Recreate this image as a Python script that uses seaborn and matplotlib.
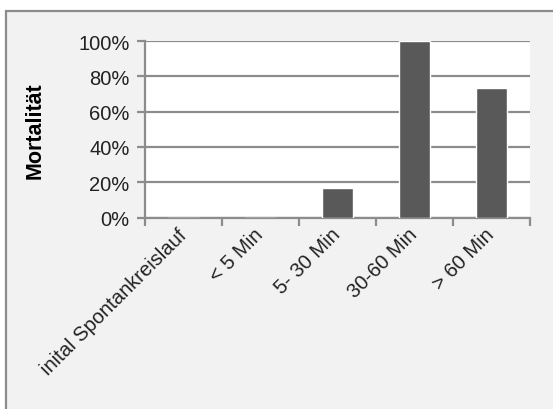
import matplotlib
matplotlib.use("Agg")
import matplotlib.pyplot as plt
from matplotlib.patches import Rectangle
from matplotlib.ticker import FixedLocator, PercentFormatter
import seaborn as sns
import pandas as pd

categories = ["inital Spontankreislauf", "< 5 Min", "5- 30 Min", "30-60 Min", "> 60 Min"]
mortality = [0.0, 0.0, 16.7, 100.0, 73.3]
y_ticks = [0, 20, 40, 60, 80, 100]

sns.set_theme(style="white")
plt.rcParams["font.family"] = ["Liberation Sans", "DejaVu Sans"]

df = pd.DataFrame({"Gruppe": categories, "Mortalität": mortality})

W, H, DPI = 553, 410, 100
fig = plt.figure(figsize=(W / DPI, H / DPI), dpi=DPI, facecolor="white")

# chart frame with light gray fill, drawn beneath the axes
frame = Rectangle((6 / W, -0.1), 1.2, 1 - 12 / H + 0.1, transform=fig.transFigure,
                  facecolor="#f2f2f2", edgecolor="#8c8c8c", linewidth=1.6, zorder=-10)
fig.add_artist(frame)

ax = fig.add_axes([145 / W, 1 - 218.5 / H, (530 - 145) / W, (218.5 - 42) / H])
ax.set_zorder(1)
ax.set_facecolor("white")

sns.barplot(data=df, x="Gruppe", y="Mortalität", color="#595959", width=0.4,
            saturation=1, ax=ax, zorder=3)

ax.set_ylim(0, 100)
ax.set_xlim(-0.5, len(categories) - 0.5)
ax.set_yticks(y_ticks)
ax.yaxis.set_major_formatter(PercentFormatter(decimals=0))
ax.yaxis.grid(True, color="#8c8c8c", linewidth=1.6, zorder=1)
ax.set_axisbelow(True)

for side in ["top", "right"]:
    ax.spines[side].set_visible(False)
for side in ["left", "bottom"]:
    ax.spines[side].set_color("#8c8c8c")
    ax.spines[side].set_linewidth(1.6)

ax.tick_params(axis="y", which="major", direction="out", length=6, width=1.6,
               color="#8c8c8c", labelsize=14.5, labelcolor="#222222", pad=5, left=True)
ax.tick_params(axis="x", which="major", length=0, labelsize=14.5, labelcolor="#222222", pad=10)
ax.xaxis.set_minor_locator(FixedLocator([i - 0.5 for i in range(len(categories) + 1)]))
ax.tick_params(axis="x", which="minor", direction="out", length=6, width=1.6,
               color="#8c8c8c", bottom=True)

for lbl in ax.get_xticklabels():
    lbl.set_rotation(45)
    lbl.set_ha("right")
    lbl.set_va("center")
    lbl.set_rotation_mode("anchor")

ax.set_xlabel("")
ax.set_ylabel("Mortalität", fontsize=15.5, fontweight="bold", color="black")
ax.yaxis.set_label_coords(-0.258, 0.5)

fig.savefig("out.png", dpi=DPI, facecolor=fig.get_facecolor())
